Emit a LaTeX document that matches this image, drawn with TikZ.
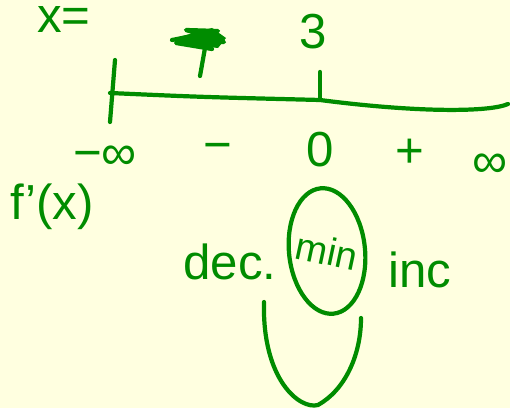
\documentclass[tikz,border=0pt]{standalone}
\usepackage{fontspec}
\setmainfont{Liberation Sans}
\definecolor{pen}{RGB}{0,140,0}
\definecolor{paper}{RGB}{255,255,224}

\begin{document}
\begin{tikzpicture}[x=0.02cm, y=-0.02cm, line cap=round, line join=round,
	stroke/.style={draw=pen, line width=2.4pt},
	ink/.style={text=pen, font=\fontsize{28}{30}\selectfont, inner sep=0pt}]
	\fill[paper] (0,0) rectangle (510,408);
	\useasboundingbox (0,0) rectangle (510,408);
	% number line
	\coordinate (lft) at (110,93);
	\coordinate (mid) at (320,100);
	\coordinate (rgt) at (508,104);
	\coordinate (ltop) at (115,60);
	\coordinate (lbot) at (110,122);
	\coordinate (mtop) at (320,72);
	\draw[stroke] (ltop) -- (lbot);
	\draw[stroke] (lft) .. controls (200,97) .. (mid) .. controls (420,113) and (490,112) .. (rgt);
	\draw[stroke] (mtop) -- (mid);
	% crossed out mark
	\fill[pen] (175,38) -- (212,28) -- (226,38) -- (218,48) -- (180,44) -- cycle;
	\draw[stroke] (172,40) -- (218,31) -- (186,30) -- (224,42) -- (176,43) -- (212,49);
	\draw[stroke] (205,48) -- (200,76);
	% labels
	\node[ink] (xeq) at (64,20) {x=};
	\node[ink] (three) at (313,32) {3};
	\node[ink] (minf) at (105,158) {−∞};
	\node[ink] (neg) at (218,152) {−};
	\node[ink] (zero) at (320,150) {0};
	\node[ink] (pos) at (410,153) {+};
	\node[ink] (pinf) at (490,166) {∞};
	\node[ink] (fprime) at (52,207) {f'(x)};
	\node[ink] (dec) at (230,262) {dec.};
	\node[ink] (inc) at (420,270) {inc};
	\coordinate (ring) at (327,251);
	\draw[stroke, rotate around={6:(ring)}] (ring) ellipse [x radius=38, y radius=63];
	\node[ink, font=\fontsize{22}{24}\selectfont, rotate=-12] (mn) at (ring) {min};
	% the U below
	\coordinate (uleft) at (264,302);
	\coordinate (uright) at (361,318);
	\draw[stroke] (uleft) .. controls (262,380) and (300,410) .. (318,405) .. controls (345,390) and (361,355) .. (uright);
\end{tikzpicture}
\end{document}
